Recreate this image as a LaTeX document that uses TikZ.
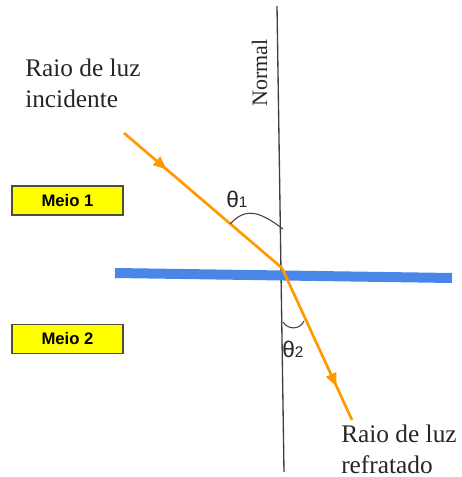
\documentclass[tikz,border=0pt]{standalone}
\usepackage{fontspec}
\setmainfont{Liberation Serif}
\setsansfont{Liberation Sans}
\usetikzlibrary{arrows.meta,decorations.markings}
\definecolor{rayorange}{HTML}{FF9900}
\definecolor{ifblue}{HTML}{4A86E8}
\definecolor{boxyellow}{HTML}{FFFF00}
\definecolor{boxborder}{HTML}{4F4F38}
\definecolor{normalgray}{HTML}{404040}
\begin{document}
\begin{tikzpicture}[x=0.75pt,y=-0.75pt,
  raypath/.style={draw=rayorange,line width=2pt},
  rayarrow/.style={postaction={decorate,decoration={markings,
      mark=at position #1 with {\arrow[rayorange]{Triangle[length=10pt,width=8pt]}}}}},
  normalline/.style={draw=normalgray,line width=1pt},
  interface/.style={draw=ifblue,line width=7.5pt},
  anglearc/.style={draw=normalgray,line width=0.8pt},
  lbl/.style={font=\rmfamily\fontsize{19}{23.3}\selectfont,align=left,inner sep=0pt,text=black!85},
  thetalbl/.style={font=\sffamily\fontsize{17}{17}\selectfont,inner sep=0pt,text=black!85},
  mediumbox/.style={draw=boxborder,line width=1.1pt,fill=boxyellow,
      minimum width=83pt,minimum height=21.5pt,inner sep=0pt,
      font=\sffamily\bfseries\fontsize{12.5}{12.5}\selectfont},
]
\useasboundingbox (0,0) rectangle (461,477);

% coordinates
\coordinate (nt) at (277,6);
\coordinate (nb) at (284,472);
\coordinate (il) at (115,273);
\coordinate (ir) at (452,278);
\coordinate (inc) at (124,133);
\coordinate (O) at (282,268);
\coordinate (ref) at (352,420);

% normal
\draw[normalline] (nt) -- (nb);
\node[font=\rmfamily\fontsize{16.5}{16.5}\selectfont,rotate=90,anchor=base,inner sep=0pt,text=black!85] (normlbl) at (267,73) {Normal};

% interface
\draw[interface] (il) -- (ir);

% rays
\draw[raypath,rayarrow=0.27] (inc) -- (O);
\draw[raypath,rayarrow=0.78] (O) -- (ref);

% angle arcs
\coordinate (a1s) at (230,224);
\coordinate (a1e) at (283,229);
\draw[anglearc] (a1s) .. controls (245,208) and (258,210) .. (a1e);
\coordinate (a2s) at (283,322);
\coordinate (a2e) at (304,321);
\draw[anglearc] (a2s) .. controls (288,330) and (300,330) .. (a2e);

% theta labels
\node[thetalbl,anchor=base west] (t1) at (226,207) {θ{\fontsize{11.5}{11.5}\selectfont 1}};
\node[thetalbl,anchor=base west] (t2) at (282,357) {θ{\fontsize{11.5}{11.5}\selectfont 2}};

% ray labels
\node[lbl,anchor=north west] (inclbl) at (25,59) {Raio de luz\\incidente};
\node[lbl,anchor=north west] (reflbl) at (341,425) {Raio de luz\\refratado};

% media boxes
\node[mediumbox] (m1) at (67.5,200.5) {Meio 1};
\node[mediumbox] (m2) at (67.5,339) {Meio 2};
\end{tikzpicture}
\end{document}
